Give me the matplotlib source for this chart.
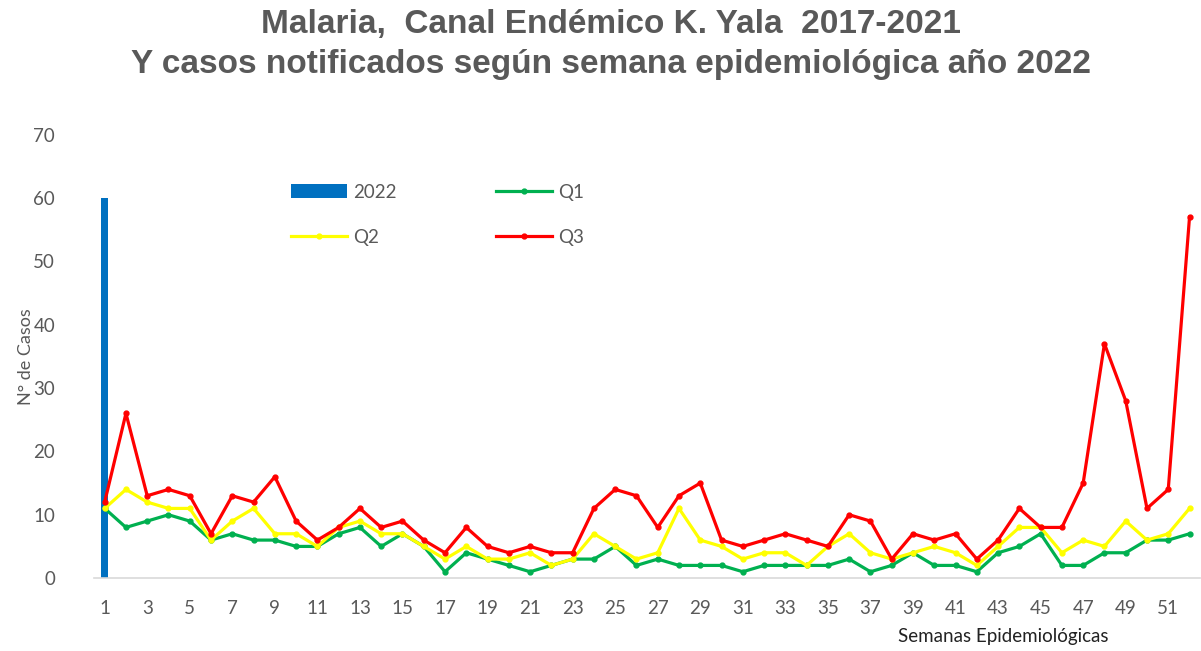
import numpy as np
import matplotlib
matplotlib.use('Agg')
import matplotlib.pyplot as plt

#%% Data
semanas = np.arange(1, 53)
casos_2022 = [60] + [0] * 51
q1 = [11, 8, 9, 10, 9, 6, 7, 6, 6, 5, 5, 7, 8, 5, 7, 5, 1, 4, 3, 2, 1, 2, 3, 3, 5, 2,
      3, 2, 2, 2, 1, 2, 2, 2, 2, 3, 1, 2, 4, 2, 2, 1, 4, 5, 7, 2, 2, 4, 4, 6, 6, 7]
q2 = [11, 14, 12, 11, 11, 6, 9, 11, 7, 7, 5, 8, 9, 7, 7, 5, 3, 5, 3, 3, 4, 2, 3, 7, 5, 3,
      4, 11, 6, 5, 3, 4, 4, 2, 5, 7, 4, 3, 4, 5, 4, 2, 5, 8, 8, 4, 6, 5, 9, 6, 7, 11]
q3 = [12, 26, 13, 14, 13, 7, 13, 12, 16, 9, 6, 8, 11, 8, 9, 6, 4, 8, 5, 4, 5, 4, 4, 11, 14, 13,
      8, 13, 15, 6, 5, 6, 7, 6, 5, 10, 9, 3, 7, 6, 7, 3, 6, 11, 8, 8, 15, 37, 28, 11, 14, 57]

gris = '#595959'
plt.rcParams['font.family'] = ['Lato', 'DejaVu Sans']

#%% Plot
fig = plt.figure(figsize=(12.01, 6.51), dpi=100)
ax = fig.add_axes([0.0783, 0.112, 0.921, 0.681])

b = ax.bar(semanas, casos_2022, width=0.35, color='#0070C0', label='2022', zorder=1)
l1, = ax.plot(semanas, q1, color='#00B050', lw=2.3, marker='o', ms=3.5, label='Q1', zorder=3)
l2, = ax.plot(semanas, q2, color='#FFFF00', lw=2.3, marker='o', ms=3.5, label='Q2', zorder=3)
l3, = ax.plot(semanas, q3, color='#FF0000', lw=2.3, marker='o', ms=3.5, label='Q3', zorder=4)

ax.set_xlim(0.5, 52.5)
ax.set_ylim(0, 70)
ax.set_yticks(range(0, 71, 10))
ax.set_xticks(semanas[::2])
ax.tick_params(axis='both', length=0, labelsize=13.5, colors=gris)
ax.tick_params(axis='y', pad=28)
ax.tick_params(axis='x', pad=16)
for s in ['left', 'right', 'top']:
    ax.spines[s].set_visible(False)
ax.spines['bottom'].set_color('#D9D9D9')
ax.spines['bottom'].set_linewidth(1.2)

ax.set_ylabel('N° de Casos', fontsize=13, color=gris)
ax.yaxis.set_label_coords(-0.054, 0.5)
fig.text(0.835, 0.023, 'Semanas Epidemiológicas', fontsize=13.5, color='#222222',
         ha='center', va='center')

ax.legend([b, l2, l1, l3], ['2022', 'Q2', 'Q1', 'Q3'], ncol=2, frameon=False,
          loc='upper left', bbox_to_anchor=(0.163, 0.928), fontsize=13.5,
          labelcolor=gris, handlelength=3.0, handletextpad=0.3,
          columnspacing=5.3, labelspacing=1.5)

fig.text(0.509, 0.963, 'Malaria,  Canal Endémico K. Yala  2017-2021', fontsize=24,
         fontweight='bold', color=gris, ha='center', va='center',
         family=['Liberation Sans', 'DejaVu Sans'])
fig.text(0.509, 0.901, 'Y casos notificados según semana epidemiológica año 2022', fontsize=24,
         fontweight='bold', color=gris, ha='center', va='center',
         family=['Liberation Sans', 'DejaVu Sans'])

fig.savefig('out.png', dpi=100)
